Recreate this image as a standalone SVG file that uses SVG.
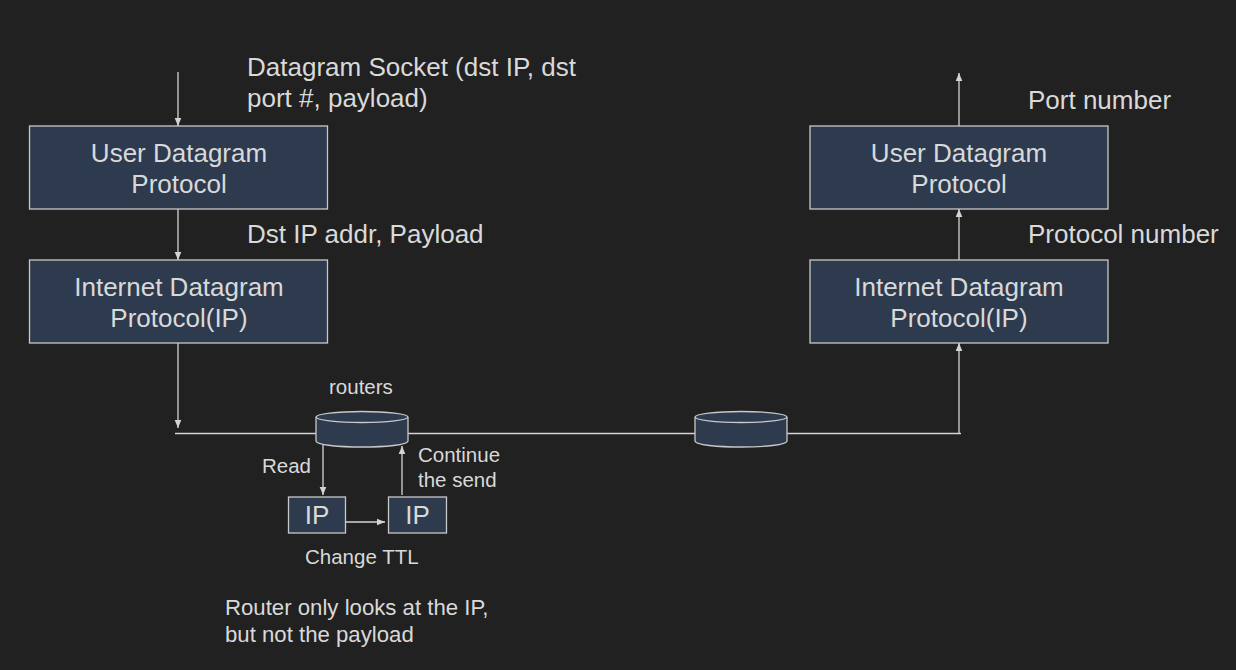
<svg xmlns="http://www.w3.org/2000/svg" width="1236" height="670" viewBox="0 0 1236 670">
<style>
.b{fill:#2e3b4e;stroke:#c8c8c8;stroke-width:1.3}
text{font-family:"Liberation Sans",Arial,sans-serif;fill:#d9d9d9}
.l{font-size:26px}
.c{font-size:26px;text-anchor:middle}
.s{font-size:20.500px}
.n{font-size:22.200px}
.ln{fill:none;stroke:#d4d4d4;stroke-width:1.300}
</style>
<defs>
<marker id="a" markerUnits="userSpaceOnUse" markerWidth="9" markerHeight="8" refX="8" refY="4" orient="auto"><path d="M0 0.700L8 4L0 7.300Z" fill="#d4d4d4"/></marker>
</defs>
<rect width="1236" height="670" fill="#212121"/>
<g id="connectors">
<path class="ln" marker-end="url(#a)" d="M178 72V126"/>
<path class="ln" marker-end="url(#a)" d="M178 209V260"/>
<path class="ln" marker-end="url(#a)" d="M178 343V428"/>
<path class="ln" d="M175 433.500H316M408 433.500H696M787 433.500H961"/>
<path class="ln" marker-end="url(#a)" d="M959 433V343"/>
<path class="ln" marker-end="url(#a)" d="M959 260V209"/>
<path class="ln" marker-end="url(#a)" d="M959 126V73"/>
<path class="ln" marker-end="url(#a)" d="M323 442V495"/>
<path class="ln" marker-end="url(#a)" d="M402 495V446"/>
<path class="ln" marker-end="url(#a)" d="M345 522H385"/>
</g>
<g id="udp-left"><rect class="b" x="29.500" y="126" width="298" height="83"/><text class="c" x="179" y="162">User Datagram</text><text class="c" x="179" y="193">Protocol</text></g>
<g id="ip-left"><rect class="b" x="29.500" y="260" width="298" height="83"/><text class="c" x="179" y="296">Internet Datagram</text><text class="c" x="179" y="327">Protocol(IP)</text></g>
<g id="udp-right"><rect class="b" x="810" y="126" width="298" height="83"/><text class="c" x="959" y="162">User Datagram</text><text class="c" x="959" y="193">Protocol</text></g>
<g id="ip-right"><rect class="b" x="810" y="260" width="298" height="83"/><text class="c" x="959" y="296">Internet Datagram</text><text class="c" x="959" y="327">Protocol(IP)</text></g>
<g id="router-1"><path class="b" d="M316 417V441C316 449 408 449 408 441V417"/><ellipse class="b" cx="362" cy="417" rx="46" ry="5.500"/></g>
<g id="router-2"><path class="b" d="M695 417V441C695 449 787 449 787 441V417"/><ellipse class="b" cx="741" cy="417" rx="46" ry="5.500"/></g>
<g id="ip-read"><rect class="b" x="288.500" y="497" width="57" height="36"/><text class="c" x="317" y="524">IP</text></g>
<g id="ip-changed"><rect class="b" x="388.500" y="497" width="58" height="36"/><text class="c" x="417.500" y="524">IP</text></g>
<text class="l" x="247" y="76">Datagram Socket (dst IP, dst</text>
<text class="l" x="247" y="107">port #, payload)</text>
<text class="l" x="247" y="243">Dst IP addr, Payload</text>
<text class="l" x="1028" y="109">Port number</text>
<text class="l" x="1028" y="243">Protocol number</text>
<text class="s" x="329" y="394">routers</text>
<text class="s" x="262" y="473">Read</text>
<text class="s" x="418" y="462">Continue</text>
<text class="s" x="418" y="487">the send</text>
<text class="s" x="305" y="564">Change TTL</text>
<text class="n" x="225" y="615">Router only looks at the IP,</text>
<text class="n" x="225" y="642">but not the payload</text>
</svg>
